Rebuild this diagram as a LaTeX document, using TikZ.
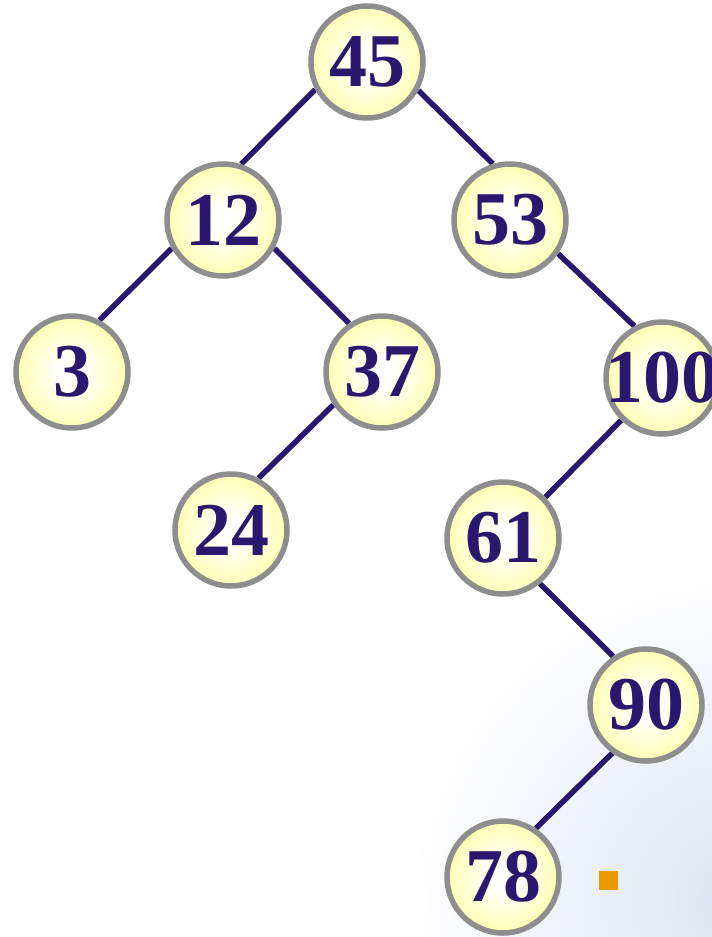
\documentclass[tikz,border=0pt]{standalone}
\usepackage{fontspec}
\setmainfont{Liberation Serif}
\usetikzlibrary{backgrounds}

\pgfdeclarelayer{back}
\pgfsetlayers{back,background,main}

\definecolor{nodeink}{HTML}{2A176E}
\definecolor{nodeyellow}{HTML}{FFFFB4}
\definecolor{ringgray}{HTML}{8E8E8E}
\definecolor{washblue}{HTML}{DCE3F3}
\definecolor{bulletorange}{HTML}{E89A00}

\pgfdeclareradialshading{nodeglow}{\pgfpoint{0bp}{0bp}}{%
  color(0bp)=(white); color(5bp)=(white); color(25bp)=(nodeyellow); color(50bp)=(nodeyellow)}

\newcommand{\nodeval}[1]{\makebox[0pt]{#1}}

\begin{document}
\begin{tikzpicture}[
    x=1pt, y=-1pt,
    tree node/.style={
        circle,
        draw=ringgray,
        line width=5.5pt,
        shading=nodeglow,
        minimum size=112pt,
        inner sep=0pt,
        text=nodeink,
        font=\fontsize{76}{76}\selectfont\bfseries
    },
    tree edge/.style={
        draw=nodeink,
        line width=5.5pt
    },
    orange box/.style={
        rectangle,
        fill=bulletorange,
        minimum size=19pt,
        inner sep=0pt
    }
]
\useasboundingbox (0,0) rectangle (712,937);
\clip (0,0) rectangle (712,937);

% Page background with the faint wash at the lower right
\begin{pgfonlayer}{back}
    \fill[white] (0,0) rectangle (712,937);
    \shade[inner color=washblue, outer color=white] (740,900) circle (330);
\end{pgfonlayer}

% Tree nodes
\node[tree node] (n45)  at (367,62)  {\nodeval{45}};
\node[tree node] (n12)  at (223,220) {\nodeval{12}};
\node[tree node] (n53)  at (510,220) {\nodeval{53}};
\node[tree node] (n3)   at (72,372)  {\nodeval{3}};
\node[tree node] (n37)  at (382,372) {\nodeval{37}};
\node[tree node] (n100) at (662,378) {\nodeval{100}};
\node[tree node] (n24)  at (231,530) {\nodeval{24}};
\node[tree node] (n61)  at (503,538) {\nodeval{61}};
\node[tree node] (n90)  at (646,705) {\nodeval{90}};
\node[tree node] (n78)  at (503,877) {\nodeval{78}};

% Bullet mark
\node[orange box] (sq) at (608,880) {};

% Edges
\begin{scope}[on background layer]
    \draw[tree edge] (n45.208) -- (n12.72);
    \draw[tree edge] (n45.331) -- (n53.107);
    \draw[tree edge] (n12.209) -- (n3.62);
    \draw[tree edge] (n12.331) -- (n37.124);
    \draw[tree edge] (n53.325) -- (n100.118);
    \draw[tree edge] (n37.214) -- (n24.62);
    \draw[tree edge] (n100.226) -- (n61.44);
    \draw[tree edge] (n61.309) -- (n90.124);
    \draw[tree edge] (n90.235) -- (n78.56);
\end{scope}

\end{tikzpicture}
\end{document}
